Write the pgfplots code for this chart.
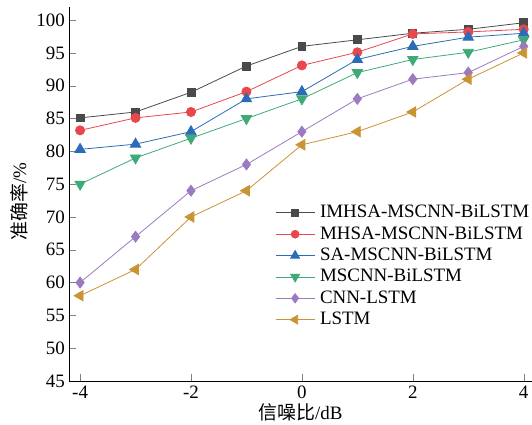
\documentclass[border=0pt]{standalone}
\usepackage{pgfplots}
\pgfplotsset{compat=1.18}
\usepackage{fontspec}
\setmainfont{Liberation Serif}
\newfontfamily\cjk{Noto Sans CJK SC}

\definecolor{cA}{HTML}{4A4A4A}
\definecolor{cB}{HTML}{E8474D}
\definecolor{cC}{HTML}{2B6CB8}
\definecolor{cD}{HTML}{3DAA77}
\definecolor{cE}{HTML}{9B7BBF}
\definecolor{cF}{HTML}{C99433}

\begin{document}
\fontsize{19}{22}\selectfont
\begin{tikzpicture}
\begin{axis}[
    scale only axis,
    width=463bp, height=374bp,
    xmin=-4.2, xmax=4.15,
    ymin=45, ymax=102,
    axis x line=bottom, axis y line=left,
    axis line style={-, thin},
    tick align=inside,
    major tick length=7bp,
    xtick={-4,-2,0,2,4},
    ytick={45,50,...,100},
    /pgf/number format/assume math mode=true,
    ticklabel style={font=\fontsize{19}{22}\selectfont},
    xticklabel style={inner sep=1bp, yshift=-4bp},
    yticklabel style={inner sep=1bp, xshift=-3bp},
    xlabel={{\cjk 信噪比}/dB},
    ylabel={{\cjk 准确率}/\%},
    label style={font=\fontsize{19}{22}\selectfont},
    xlabel style={at={(axis description cs:0.5,0)}, yshift=-22bp, anchor=north, inner sep=0bp},
    ylabel style={at={(axis description cs:-0.108,0.48)}, anchor=center},
    every axis plot/.append style={line width=0.8pt},
    legend style={draw=none, fill=none, at={(0.445,0.476)}, anchor=north west,
        font=\fontsize{19}{22}\selectfont, row sep=2bp, inner sep=0bp,
        nodes={inner xsep=5bp}},
    legend cell align=left,
    legend image code/.code={
        \draw[#1, mark repeat=2, mark phase=2, every mark/.append style={scale=0.85}]
            plot coordinates {(0bp,0bp) (19.5bp,0bp) (39bp,0bp)};
    },
]
\addplot[color=cA, mark=square*, mark size=4pt] coordinates {
    (-4,85.1) (-3,86) (-2,89) (-1,93) (0,96) (1,97) (2,98) (3,98.6) (4,99.6)};
\addlegendentry{IMHSA-MSCNN-BiLSTM}
\addplot[color=cB, mark=*, mark size=4.6pt] coordinates {
    (-4,83.2) (-3,85.1) (-2,86) (-1,89.1) (0,93.1) (1,95.1) (2,97.9) (3,98.2) (4,98.6)};
\addlegendentry{MHSA-MSCNN-BiLSTM}
\addplot[color=cC, mark=triangle*, mark size=6pt] coordinates {
    (-4,80.3) (-3,81.1) (-2,83) (-1,88) (0,89.1) (1,94) (2,96) (3,97.4) (4,98)};
\addlegendentry{SA-MSCNN-BiLSTM}
\addplot[color=cD, mark=triangle*, mark size=6pt, mark options={rotate=180}] coordinates {
    (-4,75) (-3,79) (-2,82) (-1,85) (0,88) (1,92) (2,94) (3,95.1) (4,97)};
\addlegendentry{MSCNN-BiLSTM}
\addplot[color=cE, mark=diamond*, mark size=5.5pt] coordinates {
    (-4,60) (-3,67) (-2,74) (-1,78) (0,83) (1,88) (2,91) (3,92) (4,96)};
\addlegendentry{CNN-LSTM}
\addplot[color=cF, mark=triangle*, mark size=6pt, mark options={rotate=90}] coordinates {
    (-4,58) (-3,62) (-2,70) (-1,74) (0,81) (1,83) (2,86) (3,91) (4,95)};
\addlegendentry{LSTM}
\end{axis}
\pgfresetboundingbox
\path ([shift={(-69bp,-43bp)}]current axis.south west)
    rectangle ([shift={(0bp,7bp)}]current axis.north east);
\end{tikzpicture}
\end{document}
